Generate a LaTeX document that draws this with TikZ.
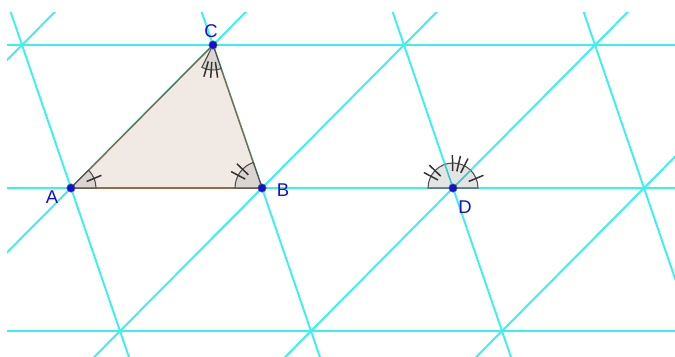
\documentclass[tikz,border=0pt]{standalone}
\usepackage{fontspec}
\setmainfont{Liberation Sans}
\definecolor{gridC}{HTML}{3CF0F0}
\definecolor{triFill}{HTML}{F1E9E4}
\definecolor{triEdge}{HTML}{7A6A48}
\definecolor{baseEdge}{HTML}{9A6A48}
\definecolor{ptBlue}{HTML}{1010D8}
\definecolor{angFill}{HTML}{DAD5D0}
\definecolor{semiFill}{HTML}{E4E4E4}

\begin{document}
\begin{tikzpicture}[
    x=0.02cm, y=0.02cm,
    gridln/.style={gridC, line width=1.1pt},
    pt/.style={circle, fill=ptBlue, draw=black!60, line width=0.3pt,
        inner sep=0pt, minimum size=4.8pt},
    lbl/.style={text=ptBlue, font=\fontsize{10.5}{12}\selectfont, inner sep=0pt},
    angsec/.style={fill=angFill, draw=black!70, line width=0.6pt},
    tickm/.style={black!80, line width=0.85pt},
]
\useasboundingbox (0,0) rectangle (675,356);
\def\r{25}

% lattice of lines (clipped to the sheet)
\begin{scope}
\clip (7,0) rectangle (675,344);
\foreach \y in {25,168,311} {
    \draw[gridln] (7,\y) -- (675,\y);
}
% parallels to AC
\foreach \x in {-120,71,262,453,644} {
    \draw[gridln] (\x,168) ++(-426,-429) -- ++(852,858);
}
% parallels to BC
\foreach \x in {71,262,453,644} {
    \draw[gridln] (\x,168) ++(147,-429) -- ++(-294,858);
}
\end{scope}

% vertices
\coordinate (A) at (71,168);
\coordinate (B) at (262,168);
\coordinate (C) at (213,311);
\coordinate (D) at (453,168);

% triangle
\filldraw[triFill, draw=triEdge, line width=0.8pt] (A) -- (B) -- (C) -- cycle;
\draw[baseEdge, line width=0.8pt] (A) -- (B);

% angle at A (one tick)
\filldraw[angsec] (A) -- ++(0:\r) arc[start angle=0, end angle=45.2, radius=\r] -- cycle;
\draw[tickm] (A) ++(22.6:\r-8) -- ++(22.6:16);

% angle at B (two ticks)
\filldraw[angsec] (B) -- ++(108.9:\r+2) arc[start angle=108.9, end angle=180, radius=\r+2] -- cycle;
\foreach \a in {136,152} {
    \draw[tickm] (B) ++(\a:\r-6) -- ++(\a:16);
}

% angle at C (three ticks)
\filldraw[angsec] (C) -- ++(243.6:\r) arc[start angle=243.6, end angle=288.9, radius=\r] -- cycle;
\foreach \a in {254,266,278} {
    \draw[tickm] (C) ++(\a:\r-8) -- ++(\a:16);
}

% angles gathered at D
\filldraw[fill=semiFill, draw=black!70, line width=0.6pt]
    (D) -- ++(0:\r) arc[start angle=0, end angle=180, radius=\r] -- cycle;
\draw[gridC!70!teal, line width=0.9pt] (D) -- ++(45.2:\r);
\draw[gridC!70!teal, line width=0.9pt] (D) -- ++(108.9:\r);
\draw[tickm] (D) ++(22.6:\r-8) -- ++(22.6:16);
\foreach \a in {63,77,91} {
    \draw[tickm] (D) ++(\a:\r-8) -- ++(\a:16);
}
\foreach \a in {136,152} {
    \draw[tickm] (D) ++(\a:\r-8) -- ++(\a:16);
}

% points and labels
\foreach \p in {A,B,C,D} {
    \node[pt] (p\p) at (\p) {};
}
\node[lbl] (lA) at (52,159) {A};
\node[lbl] (lB) at (283,166) {B};
\node[lbl] (lC) at (211,325) {C};
\node[lbl] (lD) at (465,149) {D};

\end{tikzpicture}
\end{document}
